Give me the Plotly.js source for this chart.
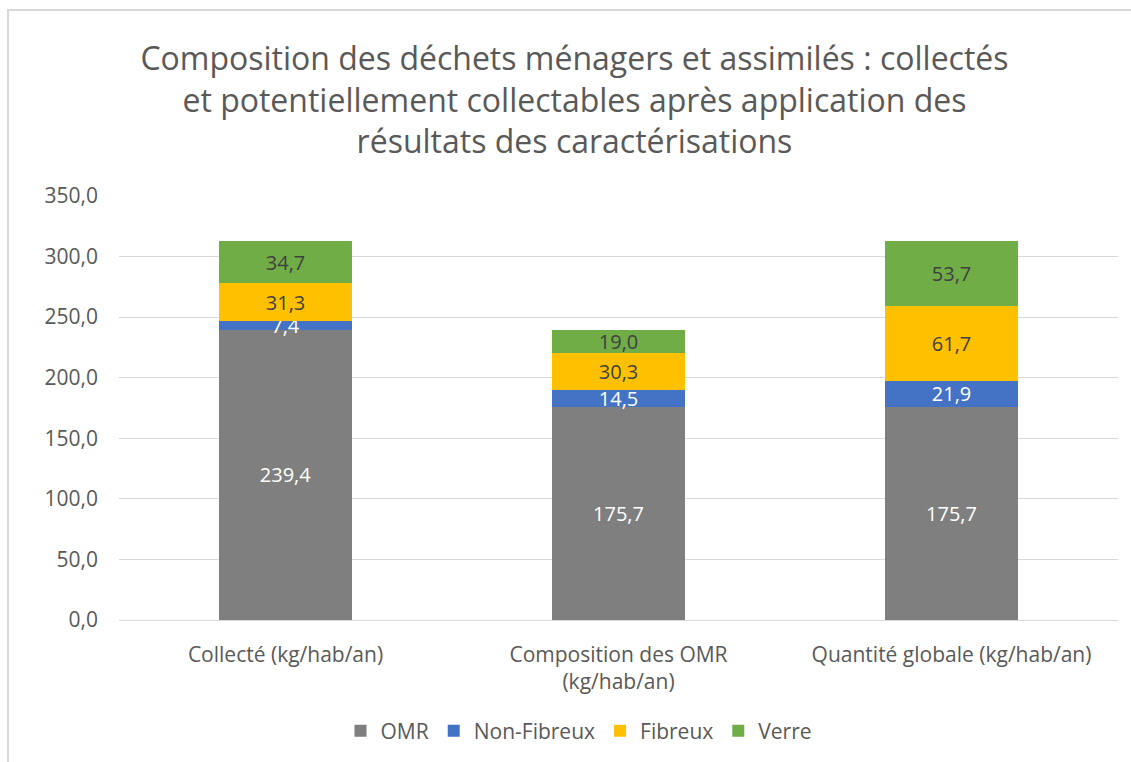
<!DOCTYPE html>
<html>
<head>
<meta charset="utf-8">
<script src="https://cdn.plot.ly/plotly-3.0.1.min.js"></script>
<style>
  body { margin: 0; background: #fff; }
  #chart { position: absolute; left: 7px; top: 9px; width: 1122px; height: 751px;
           border-left: 2px solid #d9d9d9; border-top: 2px solid #d9d9d9; }
</style>
</head>
<body>
<div id="chart"></div>
<script>
var categories = ['Collecté (kg/hab/an)', 'Composition des OMR<br>(kg/hab/an)', 'Quantité globale (kg/hab/an)'];
var omr = [239.4, 175.7, 175.7];
var nonFibreux = [7.4, 14.5, 21.9];
var fibreux = [31.3, 30.3, 61.7];
var verre = [34.7, 19.0, 53.7];

function serie(name, values, color, textColor) {
  return {
    type: 'bar',
    name: name,
    x: categories,
    y: values,
    marker: { color: color, line: { width: 0 } },
    texttemplate: '%{y:.1f}',
    textposition: 'inside',
    insidetextanchor: 'middle',
    constraintext: 'none',
    textfont: { family: 'Open Sans', size: 20, color: textColor },
    hoverinfo: 'name+y'
  };
}

var data = [
  serie('OMR', omr, '#7f7f7f', '#ffffff'),
  serie('Non-Fibreux', nonFibreux, '#4472c4', '#ffffff'),
  serie('Fibreux', fibreux, '#ffc000', '#404040'),
  serie('Verre', verre, '#70ad47', '#404040')
];

var layout = {
  width: 1122,
  height: 751,
  barmode: 'stack',
  bargap: 0.6,
  separators: ', ',
  paper_bgcolor: '#ffffff',
  plot_bgcolor: '#ffffff',
  font: { family: 'Open Sans', color: '#595959' },
  margin: { l: 110, r: 13, t: 185, b: 142 },
  title: {
    text: 'Composition des déchets ménagers et assimilés : collectés<br>et potentiellement collectables après application des<br>résultats des caractérisations',
    font: { family: 'Open Sans', size: 32, color: '#595959' },
    x: 0.504, xref: 'container', xanchor: 'center',
    y: 1 - 59 / 751, yref: 'container', yanchor: 'middle'
  },
  xaxis: {
    type: 'category',
    tickfont: { size: 21, color: '#595959' },
    showgrid: false,
    showline: false,
    ticks: '',
    ticklabelstandoff: 20
  },
  yaxis: {
    range: [0, 350],
    dtick: 50,
    tickformat: '.1f',
    tickfont: { size: 21, color: '#595959' },
    gridcolor: '#d9d9d9',
    gridwidth: 1,
    zeroline: true,
    zerolinecolor: '#d9d9d9',
    showline: false,
    ticks: '',
    ticklabelstandoff: 20
  },
  legend: {
    orientation: 'h',
    x: 570 / 1122, xref: 'container', xanchor: 'center',
    y: 1 - 720 / 751, yref: 'container', yanchor: 'middle',
    font: { size: 21, color: '#595959' },
    traceorder: 'normal'
  },
  showlegend: true
};

Plotly.newPlot('chart', data, layout, { displayModeBar: false });
</script>
</body>
</html>
